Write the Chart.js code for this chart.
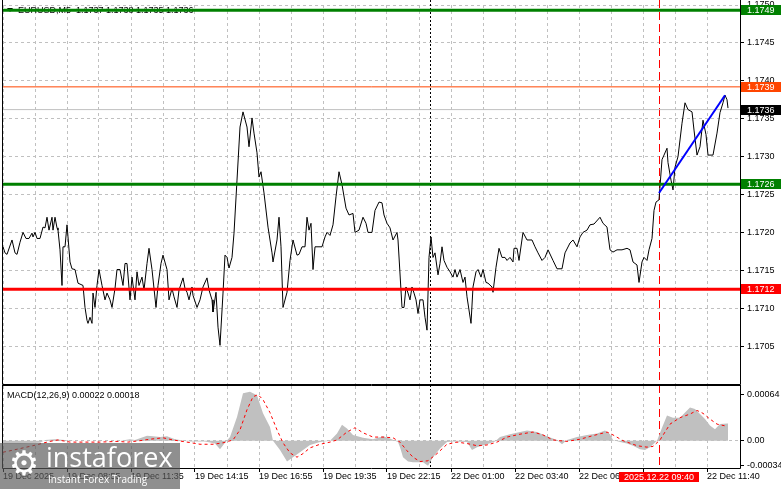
<!DOCTYPE html>
<html>
<head>
<meta charset="utf-8">
<script src="https://cdn.jsdelivr.net/npm/chart.js@4.4.1/dist/chart.umd.min.js"></script>
<style>
  html, body { margin: 0; padding: 0; background: #fff; }
  #wrap { position: relative; width: 781px; height: 489px; overflow: hidden; }
  #main { position: absolute; left: 0; top: 0; }
  #macd { position: absolute; left: 0; top: 385px; }
  #wm { position: absolute; left: 0; top: 443px; width: 180px; height: 46px; background: rgba(90, 90, 90, 0.68); }
  #wm .gear { position: absolute; left: 5px; top: 3px; width: 38px; text-align: center; font: 34px/34px 'DejaVu Sans', sans-serif; color: #fff; }
  #wm .brand { position: absolute; left: 46px; top: 0px; font: 27px/27px 'Open Sans', sans-serif; color: #fff; }
  #wm .slogan { position: absolute; left: 48px; top: 31px; font: 10px/10px 'Open Sans', sans-serif; color: #fff; }
</style>
</head>
<body>
<div id="wrap">
  <canvas id="main" width="781" height="385"></canvas>
  <canvas id="macd" width="781" height="104"></canvas>
  <div id="wm">
    <div class="gear">⚙</div>
    <div class="brand">instaforex</div>
    <div class="slogan">Instant Forex Trading</div>
  </div>
</div>
<script>
/* ============================================================
   EURUSD M5 — price chart with levels + MACD(12,26,9) subwindow
   x axis is the bar number (one M5 bar = 2 px), left edge = bar 0
   ============================================================ */

const FONT = "'Liberation Sans', Arial, sans-serif";
Chart.defaults.font.family = FONT;
Chart.defaults.font.size = 9;
Chart.defaults.font.lineHeight = 1.1;
Chart.defaults.color = "#000";

const GRID = "#c0c0c0";
const X_MAX = 368.5;

/* ------------------------------------------------------------
   DATA
   ------------------------------------------------------------ */
const closeBars = [
  0, 1, 2, 4.5, 6, 7, 8.5, 10, 11.5, 13, 14.5, 15, 16, 17, 18.5, 20, 21, 22, 23, 24.5,
  25, 26, 27, 27.5, 28.5, 29.5, 30, 31, 32, 32.5, 33.5, 34.5, 36, 37.5, 40, 41, 42, 42.5, 43.5, 44.5,
  45, 46, 47, 48, 49.5, 51, 52, 53.5, 54.5, 56, 57, 58.5, 60, 61, 62, 63.5, 64.5, 66, 67, 68,
  69.5, 70.5, 72, 73, 74.5, 75.5, 76.5, 77.5, 79, 80, 82, 83, 84.5, 85.5, 87, 88, 90, 91, 92, 93,
  94.5, 95, 97, 98.5, 100, 102, 103, 104.5, 105, 106.5, 107.5, 108.5, 110, 111, 112, 113, 114.5, 115.5, 117, 118.5,
  120, 122, 123, 124.5, 125.5, 127, 128, 129, 130.5, 132.5, 134.5, 135, 137, 138, 139, 140, 142, 143.5, 145, 147,
  148, 149.5, 151, 152, 153, 154, 155, 156, 157.5, 159.5, 161, 162, 163.5, 165, 166.5, 168, 169.5, 171.5, 173, 175,
  176, 178, 180, 181.5, 182.5, 184.5, 186, 188, 189.5, 190.5, 192, 193.5, 195, 197, 197.5, 199.5, 200.5, 201.5, 202.5, 203.5,
  204.5, 205.5, 206.5, 207.5, 208.5, 210, 211, 212, 213, 214, 215, 216, 217.5, 218.5, 219.5, 220.5, 222, 223.5, 225, 226,
  227, 228.5, 230, 231, 232, 234, 235, 236.5, 237.5, 239, 240, 241.5, 242.5, 244.5, 245, 246.5, 248, 249.5, 251, 252,
  253.5, 255, 255.5, 257, 258, 260, 262, 264.5, 266, 267.5, 269.5, 271, 272.5, 275, 277, 279.5, 281, 283.5, 285, 287,
  288.5, 290, 292, 293.5, 295.5, 298.5, 300, 302, 303.5, 305, 307, 309.5, 312, 313.5, 315, 317, 318, 319.5, 320.5, 322,
  323, 324.5, 325.5, 326.5, 328, 329.5, 330.5, 332, 332.5, 334, 335, 336, 337.5, 339.5, 341, 342.5, 344.5, 345.5, 347, 348.5,
  350, 351.5, 352.5, 355, 357, 358.5, 360, 361, 362, 362.5
];
const closePrices = [
  1.17181, 1.17173, 1.17171, 1.17190, 1.17173, 1.17171, 1.17187, 1.17200, 1.17192, 1.17192, 1.17199, 1.17194, 1.17200, 1.17192, 1.17192, 1.17207, 1.17206, 1.17220, 1.17203, 1.17220,
  1.17203, 1.17220, 1.17206, 1.17203, 1.17177, 1.17130, 1.17181, 1.17181, 1.17210, 1.17194, 1.17161, 1.17152, 1.17151, 1.17133, 1.17130, 1.17101, 1.17084, 1.17080, 1.17088, 1.17080,
  1.17120, 1.17101, 1.17130, 1.17151, 1.17130, 1.17111, 1.17120, 1.17111, 1.17101, 1.17126, 1.17151, 1.17151, 1.17130, 1.17159, 1.17159, 1.17111, 1.17141, 1.17111, 1.17148, 1.17130,
  1.17141, 1.17124, 1.17159, 1.17179, 1.17151, 1.17126, 1.17101, 1.17130, 1.17159, 1.17170, 1.17151, 1.17111, 1.17126, 1.17115, 1.17101, 1.17124, 1.17140, 1.17126, 1.17121, 1.17111,
  1.17128, 1.17117, 1.17101, 1.17111, 1.17128, 1.17140, 1.17124, 1.17111, 1.17095, 1.17121, 1.17075, 1.17051, 1.17120, 1.17170, 1.17167, 1.17153, 1.17167, 1.17199, 1.17269, 1.17339,
  1.17359, 1.17339, 1.17313, 1.17351, 1.17331, 1.17305, 1.17273, 1.17280, 1.17252, 1.17207, 1.17173, 1.17161, 1.17190, 1.17220, 1.17181, 1.17101, 1.17121, 1.17163, 1.17190, 1.17170,
  1.17171, 1.17181, 1.17181, 1.17220, 1.17203, 1.17212, 1.17151, 1.17181, 1.17181, 1.17181, 1.17194, 1.17200, 1.17196, 1.17210, 1.17247, 1.17280, 1.17263, 1.17232, 1.17223, 1.17225,
  1.17200, 1.17203, 1.17220, 1.17212, 1.17200, 1.17200, 1.17229, 1.17240, 1.17239, 1.17223, 1.17212, 1.17206, 1.17190, 1.17200, 1.17190, 1.17101, 1.17101, 1.17128, 1.17120, 1.17111,
  1.17128, 1.17120, 1.17111, 1.17093, 1.17111, 1.17111, 1.17088, 1.17071, 1.17167, 1.17194, 1.17167, 1.17173, 1.17144, 1.17159, 1.17181, 1.17163, 1.17154, 1.17148, 1.17141, 1.17151,
  1.17141, 1.17151, 1.17134, 1.17141, 1.17115, 1.17080, 1.17128, 1.17148, 1.17151, 1.17141, 1.17151, 1.17134, 1.17133, 1.17128, 1.17121, 1.17154, 1.17179, 1.17167, 1.17167, 1.17163,
  1.17167, 1.17161, 1.17179, 1.17179, 1.17163, 1.17200, 1.17190, 1.17190, 1.17181, 1.17173, 1.17163, 1.17167, 1.17177, 1.17163, 1.17152, 1.17152, 1.17173, 1.17186, 1.17190, 1.17181,
  1.17194, 1.17200, 1.17203, 1.17210, 1.17211, 1.17220, 1.17212, 1.17207, 1.17177, 1.17174, 1.17177, 1.17177, 1.17179, 1.17177, 1.17161, 1.17157, 1.17134, 1.17161, 1.17167, 1.17163,
  1.17177, 1.17192, 1.17229, 1.17240, 1.17243, 1.17296, 1.17302, 1.17311, 1.17292, 1.17269, 1.17256, 1.17286, 1.17300, 1.17344, 1.17371, 1.17362, 1.17359, 1.17335, 1.17302, 1.17313,
  1.17348, 1.17329, 1.17302, 1.17302, 1.17331, 1.17358, 1.17371, 1.17381, 1.17375, 1.17364
];

// blue trend line
const trendBars = [328, 361];
const trendPrices = [1.17252, 1.17381];

// horizontal levels: 1.1749, 1.1739, bid 1.1736, 1.1726, 1.1712
const levelPrices = [1.17493, 1.17392, 1.17362, 1.172635, 1.17125];
const levelTags = ["1.1749", "1.1739", "1.1736", "1.1726", "1.1712"];

const priceTicks = [1.1705, 1.1710, 1.1715, 1.1720, 1.1725, 1.1730, 1.1735, 1.1740, 1.1745, 1.1750];

// MACD histogram (main line) and signal line
const histBars = [
  0, 8.5, 18.5, 21, 26, 31, 36, 48.5, 58.5, 63.5, 66, 72, 75, 78.5, 82, 86, 93.5, 101, 106, 108.5,
  111, 113.5, 117, 120, 123.5, 127, 130, 133.5, 135, 138.5, 142, 145, 148.5, 153.5, 158.5, 163.5, 167, 169.5, 172, 175,
  180, 185, 190, 193.5, 197.5, 198.5, 200, 202.5, 205, 210, 212.5, 215, 218.5, 222, 225, 232, 234.5, 237, 242, 246,
  248.5, 253.5, 258.5, 262, 267, 272, 277, 279.5, 282, 287, 292, 297, 301, 303.5, 305, 308.5, 312, 315, 318.5, 321,
  323.5, 327, 329.5, 332, 335, 338.5, 341, 343.5, 346, 348.5, 351, 353.5, 356, 358.5, 362, 362.5
];
const histValues = [
  -0.00004, -0.00004, -0.00003, 0.00001, 0.00002, 0.00001, 0, 0, 0, 0.00002, 0.00001, 0.00007, 0.00006, 0.00005, 0.00006, 0.00002, -0.00001, -0.00001, -0.00004, -0.00012,
  -0.00003, 0.00005, 0.00033, 0.00066, 0.00068, 0.00063, 0.00038, 0.00019, 0, -0.00013, -0.00029, -0.00023, -0.00016, -0.00006, -0.00002, 0, 0.00010, 0.00022, 0.00017, 0.00008,
  0.00004, 0.00002, 0.00006, 0.00003, -0.00002, -0.00009, -0.00023, -0.00029, -0.00030, -0.00030, -0.00035, -0.00023, -0.00011, -0.00002, -0.00001, -0.00002, -0.00013, -0.00009, -0.00005, -0.00001,
  0.00005, 0.00009, 0.00012, 0.00014, 0.00012, 0.00006, 0.00001, -0.00005, 0.00001, 0.00005, 0.00008, 0.00010, 0.00014, 0.00009, 0.00001, -0.00002, -0.00004, -0.00007, -0.00012, -0.00013,
  -0.00009, 0, 0.00018, 0.00035, 0.00032, 0.00032, 0.00039, 0.00046, 0.00044, 0.00037, 0.00030, 0.00021, 0.00016, 0.00023, 0.00024, 0.00024
];
const signalBars = [
  0, 2, 8.5, 15, 23.5, 27.5, 33.5, 40, 48.5, 57, 62.5, 68.5, 73.5, 80, 85, 92, 98.5, 105, 110, 115,
  118.5, 122, 125, 127.5, 130, 133.5, 137, 140, 143.5, 147, 150, 153.5, 158.5, 163.5, 167, 172, 176, 180, 185, 190,
  195, 198.5, 202, 205, 208.5, 212.5, 217, 222, 227, 232, 237, 242, 247, 252, 258.5, 265, 270, 275, 282, 288.5,
  295, 302, 305, 310, 317, 322, 325, 328.5, 333.5, 338.5, 343.5, 347, 350, 353.5, 357, 362
];
const signalValues = [
  -0.00016, -0.00015, -0.00011, -0.00007, -0.00001, 0.00001, -0.00002, -0.00002, -0.00002, -0.00001, -0.00002, 0, 0.00002, 0.00004, 0.00001, -0.00002, -0.00005, -0.00005, -0.00003, 0.00001,
  0.00015, 0.00043, 0.00061, 0.00064, 0.00057, 0.00039, 0.00015, -0.00003, -0.00017, -0.00023, -0.00018, -0.00010, -0.00005, -0.00002, 0.00001, 0.00012, 0.00018, 0.00011, 0.00005, 0.00005,
  0.00004, -0.00002, -0.00014, -0.00023, -0.00029, -0.00028, -0.00018, -0.00005, -0.00002, -0.00004, -0.00007, -0.00006, -0.00002, 0.00005, 0.00009, 0.00012, 0.00008, 0.00001, -0.00001, 0.00002,
  0.00007, 0.00012, 0.00008, 0, -0.00007, -0.00009, -0.00008, 0.00001, 0.00023, 0.00032, 0.00037, 0.00042, 0.00038, 0.00030, 0.00023, 0.00020
];
const macdTicks = [0.00064, 0, -0.00034];

// time axis
const gridBars = [0, 16, 32, 48, 64, 80, 96, 112, 128, 144, 160, 176, 192, 208, 224, 240, 256, 272, 288, 304, 320, 336, 352];
const timeTickBars = [0, 32, 64, 96, 128, 160, 192, 224, 256, 288, 320, 352];
const timeLabels = [
  "19 Dec 2025", "19 Dec 08:55", "19 Dec 11:35", "19 Dec 14:15", "19 Dec 16:55", "19 Dec 19:35",
  "19 Dec 22:15", "22 Dec 01:00", "22 Dec 03:40", "22 Dec 06:20", "22 Dec 09:00", "22 Dec 11:40"
];
const separatorBar = 213.5;   // day separator (Monday open)
const cursorBar = 328;        // vertical marker at 09:40
const cursorLabel = "2025.12.22 09:40";

const headerText = "EURUSD,M5  1.1737 1.1738 1.1735 1.1736";
const macdText = "MACD(12,26,9) 0.00022 0.00018";

/* ------------------------------------------------------------
   STYLES
   ------------------------------------------------------------ */
const LEVEL_STYLE = [
  { color: "#008000", width: 3, tag: "#008000", order: 1 },
  { color: "#ff4500", width: 1, tag: "#ff4500", order: 1 },
  { color: "#c0c0c0", width: 1, tag: "#000000", order: 10 },
  { color: "#008000", width: 3, tag: "#008000", order: 1 },
  { color: "#ff0000", width: 3, tag: "#ff0000", order: 1 },
];

const zip = (xs, ys) => xs.map((x, i) => ({ x, y: ys[i] }));

function vline(ctx, x, top, bottom, color, dash) {
  ctx.save();
  ctx.strokeStyle = color;
  ctx.lineWidth = 1;
  ctx.setLineDash(dash);
  ctx.beginPath();
  ctx.moveTo(Math.round(x) + 0.5, top);
  ctx.lineTo(Math.round(x) + 0.5, bottom);
  ctx.stroke();
  ctx.restore();
}

function frame(ctx, a, fromY, withTop) {
  ctx.save();
  ctx.strokeStyle = "#000";
  ctx.lineWidth = 1;
  ctx.setLineDash([]);
  ctx.beginPath();
  ctx.moveTo(a.left - 0.5, fromY);
  ctx.lineTo(a.left - 0.5, a.bottom + 0.5);
  ctx.lineTo(a.right + 0.5, a.bottom + 0.5);
  ctx.moveTo(a.right + 0.5, fromY);
  ctx.lineTo(a.right + 0.5, a.bottom + 0.5);
  if (withTop) {
    ctx.moveTo(a.left - 0.5, a.top - 0.5);
    ctx.lineTo(a.right + 0.5, a.top - 0.5);
  }
  ctx.stroke();
  ctx.restore();
}

function xAxisBase(showLabels) {
  return {
    type: "linear",
    min: 0,
    max: X_MAX,
    afterBuildTicks: (s) => { s.ticks = gridBars.map((v) => ({ value: v })); },
    afterFit: (s) => {
      s.height = showLabels ? 21 : 1;
      s.paddingLeft = 0; s.paddingRight = 0;
    },
    ticks: {
      display: showLabels,
      autoSkip: false,
      maxRotation: 0,
      minRotation: 0,
      align: "start",
      padding: 0,
      callback: (v) => {
        const k = timeTickBars.indexOf(v);
        return k >= 0 ? timeLabels[k] : "";
      },
    },
    grid: {
      color: GRID,
      drawTicks: showLabels,
      tickLength: 4,
      tickColor: (c) => (c.tick && timeTickBars.includes(c.tick.value) ? "#000" : "rgba(0,0,0,0)"),
      borderDash: [3, 3],
    },
    border: { display: false, dash: [3, 3] },
  };
}

/* ------------------------------------------------------------
   MAIN PRICE WINDOW
   ------------------------------------------------------------ */
const mainOverlay = {
  id: "mainOverlay",
  beforeDatasetsDraw(chart) {
    const { ctx, chartArea: a, scales: { x } } = chart;
    vline(ctx, x.getPixelForValue(separatorBar), 0, a.bottom, "#000", [2, 2]);
    vline(ctx, x.getPixelForValue(cursorBar), 0, a.bottom, "#ff0000", [8, 4]);

    // window header (sits under the 1.1749 level)
    ctx.save();
    ctx.fillStyle = "#000";
    ctx.beginPath();
    ctx.moveTo(7, 8); ctx.lineTo(13, 8); ctx.lineTo(10, 12); ctx.closePath();
    ctx.fill();
    ctx.font = "9px " + FONT;
    ctx.textBaseline = "middle";
    ctx.fillText(headerText, 18, 11);
    ctx.restore();
  },
  afterDraw(chart) {
    const { ctx, chartArea: a, scales: { y } } = chart;
    frame(ctx, a, 0, false);

    // price tags on the axis
    ctx.save();
    ctx.font = "9px " + FONT;
    ctx.textBaseline = "middle";
    levelPrices.forEach((p, i) => {
      const yy = Math.round(y.getPixelForValue(p));
      ctx.fillStyle = LEVEL_STYLE[i].tag;
      ctx.fillRect(a.right + 1, yy - 5, chart.width - a.right - 1, 10);
      ctx.fillStyle = "#fff";
      ctx.fillText(levelTags[i], a.right + 7, yy + 0.5);
    });
    ctx.restore();
  },
};

const levelSets = levelPrices.map((p, i) => ({
  data: [{ x: 0, y: p }, { x: X_MAX, y: p }],
  borderColor: LEVEL_STYLE[i].color,
  borderWidth: LEVEL_STYLE[i].width,
  pointRadius: 0,
  order: LEVEL_STYLE[i].order,
}));

new Chart(document.getElementById("main"), {
  type: "line",
  data: {
    datasets: [
      { data: zip(trendBars, trendPrices), borderColor: "#0000ff", borderWidth: 2, pointRadius: 0, order: 0 },
      ...levelSets,
      { data: zip(closeBars, closePrices), borderColor: "#000", borderWidth: 1, pointRadius: 0, tension: 0, order: 5 },
    ],
  },
  options: {
    responsive: false,
    animation: false,
    devicePixelRatio: 1,
    events: [],
    layout: { padding: { left: 3, top: 5, right: 0, bottom: 0 } },
    plugins: { legend: { display: false }, tooltip: { enabled: false } },
    scales: {
      x: xAxisBase(false),
      y: {
        position: "right",
        min: 1.1700,
        max: 1.1750,
        afterBuildTicks: (s) => { s.ticks = priceTicks.map((v) => ({ value: v })); },
        afterFit: (s) => { s.width = 41; s.paddingTop = 0; s.paddingBottom = 0; },
        ticks: { padding: 3, callback: (v) => v.toFixed(4) },
        grid: { color: GRID, tickColor: "#000", tickLength: 4, borderDash: [3, 3] },
        border: { display: false, dash: [3, 3] },
      },
    },
  },
  plugins: [mainOverlay],
});

/* ------------------------------------------------------------
   MACD WINDOW
   ------------------------------------------------------------ */
const macdOverlay = {
  id: "macdOverlay",
  beforeDatasetsDraw(chart) {
    const { ctx, chartArea: a, scales: { x } } = chart;
    vline(ctx, x.getPixelForValue(separatorBar), 0, a.bottom, "#000", [2, 2]);
    vline(ctx, x.getPixelForValue(cursorBar), 0, a.bottom, "#ff0000", [8, 4]);
  },
  afterDraw(chart) {
    const { ctx, chartArea: a, scales: { x } } = chart;
    frame(ctx, a, 0, true);

    ctx.save();
    ctx.font = "9px " + FONT;
    ctx.textBaseline = "middle";
    ctx.fillStyle = "#000";
    ctx.fillText(macdText, 7, a.top + 9.5);

    // highlighted time of the vertical marker
    const cx = Math.round(x.getPixelForValue(cursorBar));
    ctx.fillStyle = "#ff0000";
    ctx.fillRect(cx - 40, a.bottom + 4, 80, 10);
    ctx.fillStyle = "#fff";
    ctx.textAlign = "center";
    ctx.fillText(cursorLabel, cx, a.bottom + 9.5);
    ctx.restore();
  },
};

new Chart(document.getElementById("macd"), {
  type: "line",
  data: {
    datasets: [
      { data: zip(signalBars, signalValues), borderColor: "#ff0000", borderWidth: 1, borderDash: [3, 3], pointRadius: 0, order: 0 },
      { data: zip(histBars, histValues), borderWidth: 0, backgroundColor: "#c0c0c0", fill: "origin", pointRadius: 0, order: 1 },
    ],
  },
  options: {
    responsive: false,
    animation: false,
    devicePixelRatio: 1,
    events: [],
    layout: { padding: { left: 3, top: 1, right: 0, bottom: 0 } },
    plugins: { legend: { display: false }, tooltip: { enabled: false } },
    scales: {
      x: xAxisBase(true),
      y: {
        position: "right",
        min: -0.00038,
        max: 0.00076,
        afterBuildTicks: (s) => { s.ticks = macdTicks.map((v) => ({ value: v })); },
        afterFit: (s) => { s.width = 41; s.paddingTop = 0; s.paddingBottom = 0; },
        ticks: { padding: 3, callback: (v) => (v === 0 ? "0.00" : v.toFixed(5)) },
        grid: {
          color: (c) => (c.tick && c.tick.value === 0 ? GRID : "rgba(0,0,0,0)"),
          tickColor: "#000",
          tickLength: 4,
          borderDash: [3, 3],
        },
        border: { display: false, dash: [3, 3] },
      },
    },
  },
  plugins: [macdOverlay],
});
</script>
</body>
</html>
